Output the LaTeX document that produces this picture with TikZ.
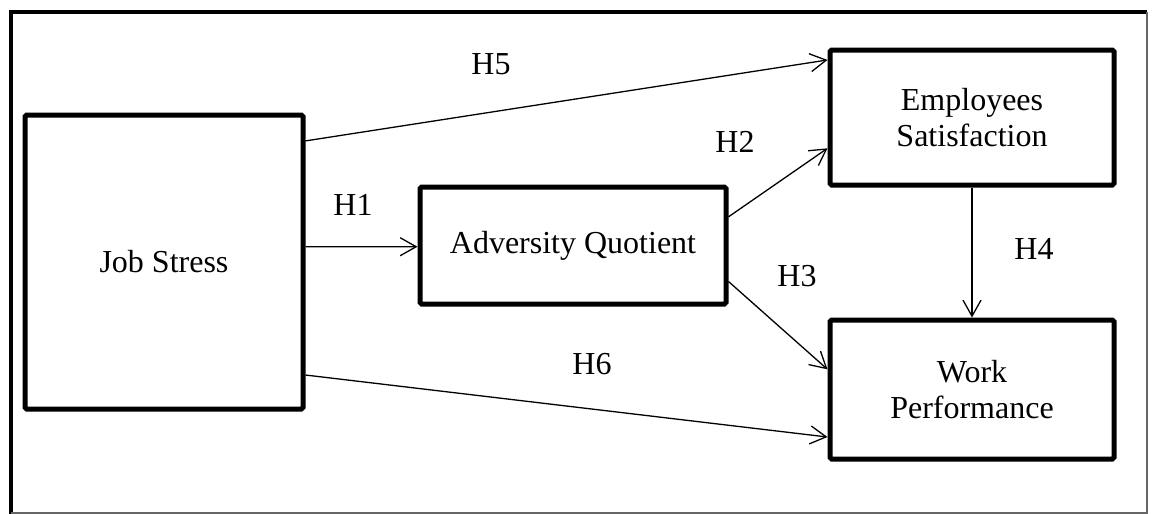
\documentclass[tikz,border=0pt]{standalone}
\usepackage{fontspec}
\setmainfont{Liberation Serif}
\usepackage{tikz}
\usetikzlibrary{arrows.meta, calc}
\tikzstyle{block} = [rectangle, draw=black, line width=2.5pt, rounded corners=0.8pt, align=center, text centered, font=\fontsize{16}{18}\selectfont]
\tikzstyle{arrow} = [line width=0.65pt, -{Straight Barb[length=8pt,width=9pt]}]
\tikzstyle{hyp} = [font=\fontsize{16}{18}\selectfont]

\begin{document}
\begin{tikzpicture}[x=0.5pt, y=-0.5pt]
	\useasboundingbox (0,0) rectangle (1153,514);
	% frame
	\draw[line width=2.2pt] (11,514) -- (11,12) -- (1147,12);
	\draw[line width=0.6pt, black!60] (1147,12) -- (1147,513) -- (11,513);

	\node (js) [block, minimum width=139pt, minimum height=147pt] at (164,262) {Job Stress};
	\node (aq) [block, minimum width=153pt, minimum height=58.5pt] at (573,245.5) {Adversity Quotient};
	\node (es) [block, minimum width=142pt, minimum height=67.5pt] at (972,117.5) {Employees\\Satisfaction};
	\node (wp) [block, minimum width=142pt, minimum height=69.5pt] at (972,389.5) {Work\\Performance};

	\node (h1) [hyp] at (353,205) {H1};
	\node (h2) [hyp] at (735,142) {H2};
	\node (h3) [hyp] at (797,276) {H3};
	\node (h4) [hyp] at (1034,249) {H4};
	\node (h5) [hyp] at (491,64) {H5};
	\node (h6) [hyp] at (592,364) {H6};

	\draw [arrow] ($(js.north east)!0.449!(js.south east)$) -- ($(aq.north west)!0.51!(aq.south west)$);
	\draw [arrow] ($(js.north east)!0.095!(js.south east)$) -- ($(es.north west)!0.089!(es.south west)$);
	\draw [arrow] ($(aq.north east)!0.265!(aq.south east)$) -- ($(es.north west)!0.72!(es.south west)$);
	\draw [arrow] ($(aq.north east)!0.795!(aq.south east)$) -- ($(wp.north west)!0.36!(wp.south west)$);
	\draw [arrow] ($(js.north east)!0.878!(js.south east)$) -- ($(wp.north west)!0.83!(wp.south west)$);
	\draw [arrow] (es.south) -- (wp.north);
\end{tikzpicture}
\end{document}
